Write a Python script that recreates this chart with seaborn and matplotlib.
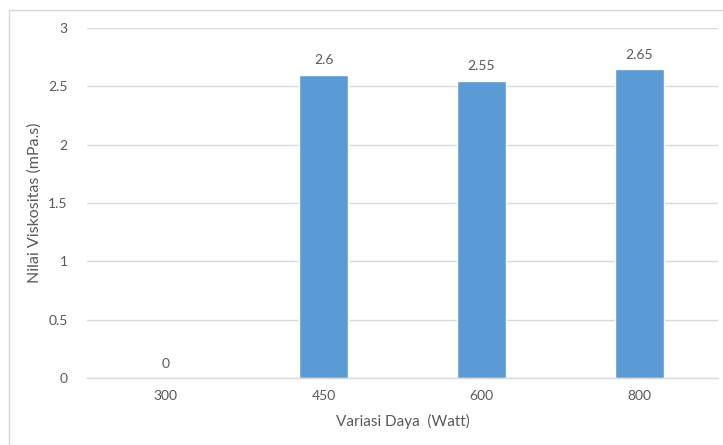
import matplotlib
matplotlib.use("Agg")
import matplotlib.pyplot as plt
from matplotlib.lines import Line2D
import seaborn as sns
import pandas as pd

# Viscosity measured at each power setting
power_labels = ["300", "450", "600", "800"]
viscosity = [0, 2.6, 2.55, 2.65]
y_ticks = [0, 0.5, 1, 1.5, 2, 2.5, 3]
y_tick_labels = ["0", "0.5", "1", "1.5", "2", "2.5", "3"]

df = pd.DataFrame({"daya": power_labels, "viskositas": viscosity})

sns.set_theme(style="white")
plt.rcParams["font.family"] = ["Lato", "DejaVu Sans"]

text_color = "#595959"
grid_color = "#D9D9D9"
bar_color = "#5B9BD5"

fig = plt.figure(figsize=(7.23, 4.45), dpi=100)
ax = fig.add_axes([87 / 723, 1 - 378 / 445, (718 - 87) / 723, (378 - 28) / 445])

sns.barplot(data=df, x="daya", y="viskositas", color=bar_color, width=0.31,
            saturation=1, ax=ax, zorder=3)

ax.set_ylim(0, 3)
ax.set_xlim(-0.5, len(power_labels) - 0.5)
ax.set_yticks(y_ticks)
ax.set_yticklabels(y_tick_labels)
ax.yaxis.grid(True, color=grid_color, linewidth=1)
ax.set_axisbelow(True)

for side in ["top", "right", "left"]:
    ax.spines[side].set_visible(False)
ax.spines["bottom"].set_color(grid_color)
ax.spines["bottom"].set_linewidth(1)
ax.spines["bottom"].set_zorder(4)

ax.tick_params(axis="both", length=0, colors=text_color, labelsize=10)
ax.tick_params(axis="y", pad=14)
ax.tick_params(axis="x", pad=9)

for i, v in enumerate(viscosity):
    ax.annotate(f"{v:g}", (i, v), xytext=(0, 6), textcoords="offset points",
                ha="center", va="bottom", fontsize=10, color=text_color)

ax.set_xlabel("Variasi Daya  (Watt)", fontsize=11, color=text_color, labelpad=8)
ax.set_ylabel("Nilai Viskositas (mPa.s)", fontsize=11.5, color=text_color)
ax.yaxis.set_label_coords(-0.0713, 0.5)

# Chart-area frame (top and left edges)
fig.add_artist(Line2D([9 / 723, 1], [1 - 10 / 445, 1 - 10 / 445],
                      transform=fig.transFigure, color=grid_color, linewidth=1))
fig.add_artist(Line2D([9 / 723, 9 / 723], [0, 1 - 10 / 445],
                      transform=fig.transFigure, color=grid_color, linewidth=1))

fig.savefig("out.png", dpi=100, facecolor="white")
